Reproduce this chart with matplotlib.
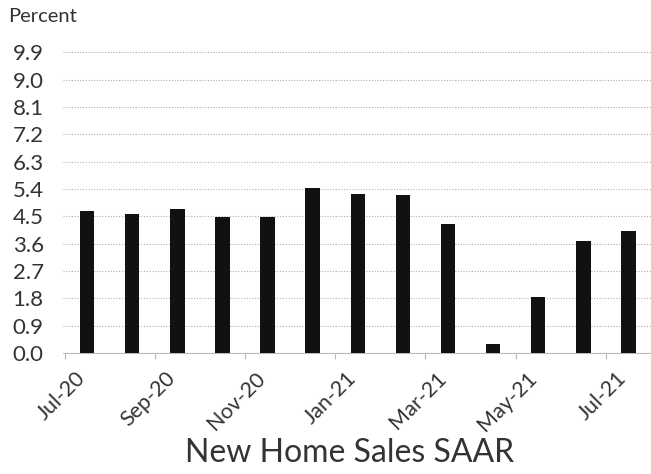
import numpy as np
import matplotlib.pyplot as plt
import matplotlib.transforms as mtransforms

months = ["Jul-20", "Aug-20", "Sep-20", "Oct-20", "Nov-20", "Dec-20", "Jan-21",
          "Feb-21", "Mar-21", "Apr-21", "May-21", "Jun-21", "Jul-21"]
sales_pct = [4.66, 4.57, 4.74, 4.47, 4.47, 5.42, 5.23, 5.20, 4.24, 0.29, 1.84, 3.69, 4.01]
y_ticks = [0.0, 0.9, 1.8, 2.7, 3.6, 4.5, 5.4, 6.3, 7.2, 8.1, 9.0, 9.9]

plt.rcParams["font.family"] = ["Lato", "DejaVu Sans"]

fig = plt.figure(figsize=(6.51, 4.74), dpi=100)
ax = fig.add_axes([0.097, 0.255, 0.903, 0.635])

x = np.arange(len(months))
ax.bar(x, sales_pct, width=0.32, color="#111111", zorder=3)

ax.set_xlim(-0.53, len(months) - 0.5)
ax.set_ylim(0, 9.9)

ax.set_yticks(y_ticks)
ax.set_yticklabels([f"{v:.1f}" for v in y_ticks])
ax.yaxis.grid(True, linestyle=(0, (1, 1.5)), color="#b0b0b0", linewidth=0.8, zorder=0)
ax.tick_params(axis="y", length=0, labelsize=16, labelcolor="#333333", pad=14)

# labels every other month, small marks between the label pairs
ax.set_xticks(x[::2])
ax.set_xticklabels(months[::2], rotation=45, ha="right", va="center",
                   rotation_mode="anchor")
ax.set_xticks(np.arange(-0.5, len(months), 2), minor=True)
ax.tick_params(axis="x", which="major", length=0, labelsize=15.5, labelcolor="#333333", pad=16)
ax.tick_params(axis="x", which="minor", length=4, color="#bbbbbb", width=0.8)
shift = mtransforms.ScaledTranslation(-5 / 100, 0, fig.dpi_scale_trans)
for lbl in ax.get_xticklabels():
    lbl.set_transform(lbl.get_transform() + shift)

for side in ["top", "right", "left"]:
    ax.spines[side].set_visible(False)
ax.spines["bottom"].set_color("#bbbbbb")
ax.spines["bottom"].set_linewidth(0.8)

fig.text(0.012, 0.965, "Percent", fontsize=14.5, color="#333333", va="center")
fig.text(0.537, 0.045, "New Home Sales SAAR", fontsize=23, color="#333333",
         ha="center", va="center")

fig.savefig("out.png", dpi=100)
